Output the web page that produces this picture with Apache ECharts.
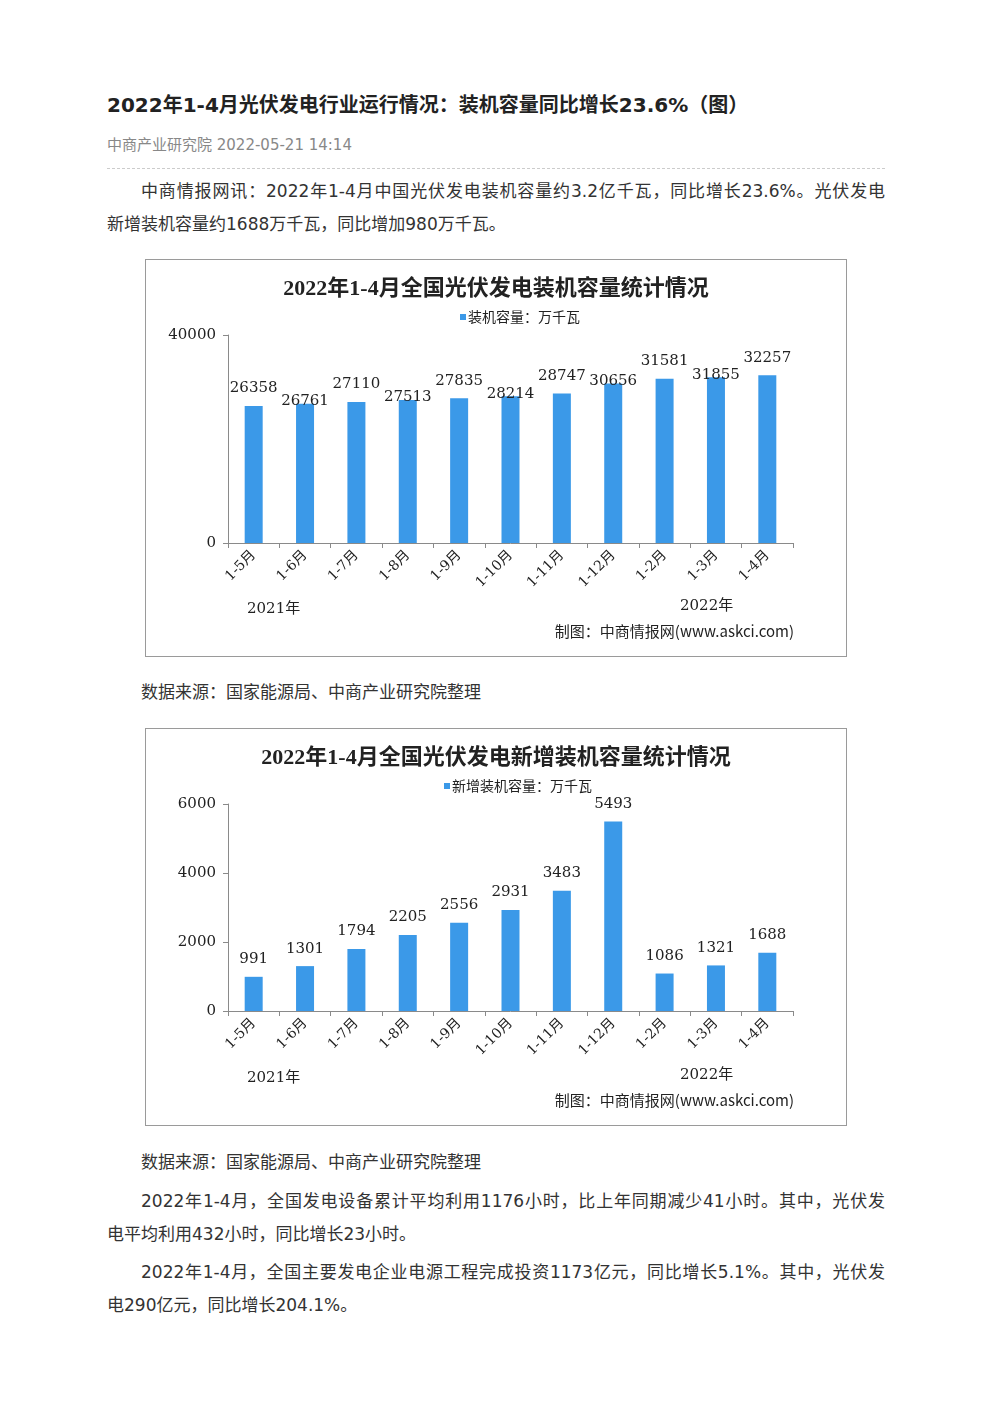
<!DOCTYPE html>
<html>
<head>
<meta charset="utf-8">
<script src="https://cdn.jsdelivr.net/npm/echarts@6/dist/echarts.min.js"></script>
<style>
  body { margin: 0; background: #fff; font-family: "DejaVu Sans", "Noto Sans CJK SC", sans-serif; color: #333; }
  .page { position: relative; width: 992px; height: 1403px; }
  .abs { position: absolute; left: 107px; width: 778px; }
  .title { top: 90px; font-size: 20px; font-weight: bold; line-height: 30px; color: #222; }
  .meta { top: 135px; font-size: 15px; line-height: 20px; color: #888; }
  .rule { top: 168px; border-top: 1px dashed #ccc; height: 0; }
  .para { font-size: 17px; line-height: 33px; }
  .para .l1 { text-indent: 2em; text-align: justify; text-align-last: justify; white-space: nowrap; }
  .box { position: absolute; left: 145px; width: 702px; height: 398px; box-sizing: border-box; border: 1px solid #9a9a9a; }
  .chart { width: 700px; height: 396px; }
</style>
</head>
<body>
<div class="page">
  <div class="abs title">2022年1-4月光伏发电行业运行情况：装机容量同比增长23.6%（图）</div>
  <div class="abs meta">中商产业研究院 2022-05-21 14:14</div>
  <div class="abs rule"></div>
  <div class="abs para" style="top:175px">
    <div class="l1">中商情报网讯：2022年1-4月中国光伏发电装机容量约3.2亿千瓦，同比增长23.6%。光伏发电</div>
    <div>新增装机容量约1688万千瓦，同比增加980万千瓦。</div>
  </div>

  <div class="box" style="top:259px"><div id="chart1" class="chart"></div></div>
  <div class="abs para" style="top:676px"><div style="text-indent:2em">数据来源：国家能源局、中商产业研究院整理</div></div>

  <div class="box" style="top:728px"><div id="chart2" class="chart"></div></div>
  <div class="abs para" style="top:1146px"><div style="text-indent:2em">数据来源：国家能源局、中商产业研究院整理</div></div>
  <div class="abs para" style="top:1185px">
    <div class="l1">2022年1-4月，全国发电设备累计平均利用1176小时，比上年同期减少41小时。其中，光伏发</div>
    <div>电平均利用432小时，同比增长23小时。</div>
  </div>
  <div class="abs para" style="top:1256px">
    <div class="l1">2022年1-4月，全国主要发电企业电源工程完成投资1173亿元，同比增长5.1%。其中，光伏发</div>
    <div>电290亿元，同比增长204.1%。</div>
  </div>
</div>

<script>
// 月份分类（2021年1-5月 ~ 2022年1-4月）
var months = ['1-5月', '1-6月', '1-7月', '1-8月', '1-9月', '1-10月', '1-11月', '1-12月', '1-2月', '1-3月', '1-4月'];
// 累计装机容量（万千瓦）
var capacity = [26358, 26761, 27110, 27513, 27835, 28214, 28747, 30656, 31581, 31855, 32257];
// 新增装机容量（万千瓦）
var added = [991, 1301, 1794, 2205, 2556, 2931, 3483, 5493, 1086, 1321, 1688];
var yearLabels = ['2021年', '2022年'];

var serif = '"DejaVu Serif", "Noto Sans CJK SC", serif';
var barColor = '#3b99e8';

function buildOption(title, legendName, legendLeft, values, yMax, yInterval, grid, staggered) {
  return {
    animation: false,
    title: {
      text: title,
      left: 'center',
      top: 13,
      textStyle: { fontFamily: '"Liberation Serif", "Noto Sans CJK SC", serif', fontSize: 22, fontWeight: 'bold', color: '#222' },
    },
    legend: {
      top: 45,
      left: legendLeft,
      data: [legendName],
      icon: 'rect',
      itemWidth: 6,
      itemHeight: 6,
      itemGap: 2,
      textStyle: { fontFamily: '"Noto Sans CJK SC", serif', fontSize: 14, color: '#222', padding: [0, 0, 0, -3] },
    },
    grid: grid,
    xAxis: {
      type: 'category',
      data: months,
      axisLine: { lineStyle: { color: '#8a8a8a' } },
      axisTick: { show: true, length: 5, lineStyle: { color: '#8a8a8a' } },
      axisLabel: { rotate: 45, fontFamily: serif, fontSize: 14, color: '#222', margin: 10 },
    },
    yAxis: {
      type: 'value',
      min: 0,
      max: yMax,
      interval: yInterval,
      splitLine: { show: false },
      axisLine: { show: true, lineStyle: { color: '#8a8a8a' } },
      axisTick: { show: true, length: 5, lineStyle: { color: '#8a8a8a' } },
      axisLabel: { fontFamily: serif, fontSize: 15, color: '#222', margin: 12, formatter: function (v) { return String(v); } },
    },
    series: [
      {
        name: legendName,
        type: 'bar',
        barWidth: 18,
        itemStyle: { color: barColor },
        data: values.map(function (v, i) {
          return {
            value: v,
            label: { offset: staggered && i % 2 ? [0, 15] : [0, 0] },
          };
        }),
        label: {
          show: true,
          position: 'top',
          distance: 10,
          fontFamily: serif,
          fontSize: 15,
          color: '#222',
        },
      },
    ],
    graphic: [
      { type: 'text', left: 101, top: 342, style: { text: yearLabels[0], font: '15px ' + serif, fill: '#222' } },
      { type: 'text', left: 534, top: 339, style: { text: yearLabels[1], font: '15px ' + serif, fill: '#222' } },
      { type: 'text', right: 52, top: 364, style: { text: '制图：中商情报网(www.askci.com)', font: '15px "Noto Sans CJK SC", serif', fill: '#222' } },
    ],
  };
}

var chart1 = echarts.init(document.getElementById('chart1'));
chart1.setOption(buildOption(
  '2022年1-4月全国光伏发电装机容量统计情况',
  '装机容量：万千瓦',
  309,
  capacity, 40000, 40000,
  { left: 82, right: 53, top: 75, bottom: 113 },
  true
));

var chart2 = echarts.init(document.getElementById('chart2'));
chart2.setOption(buildOption(
  '2022年1-4月全国光伏发电新增装机容量统计情况',
  '新增装机容量：万千瓦',
  293,
  added, 6000, 2000,
  { left: 82, right: 53, top: 75, bottom: 114 },
  false
));
</script>
</body>
</html>
